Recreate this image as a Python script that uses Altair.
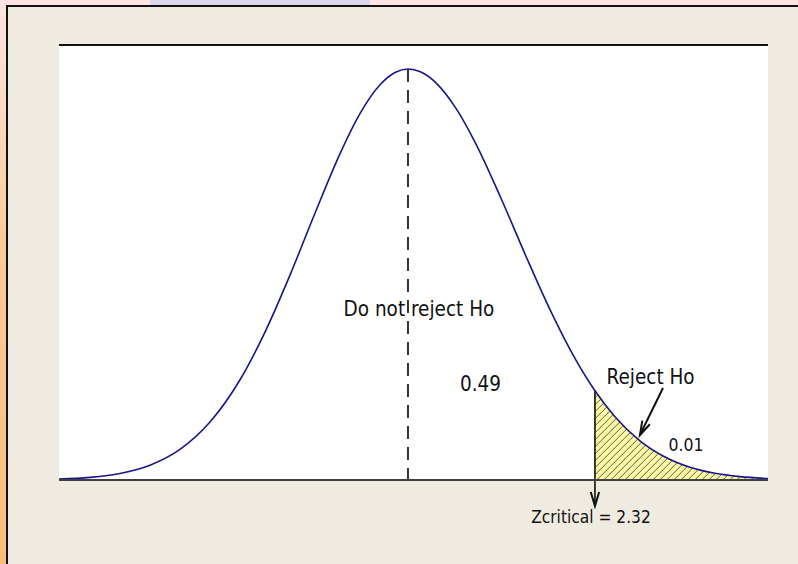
import altair as alt
import pandas as pd

# Bell curve traced as (z, density) pairs
curve_z = [-4.330, -3.945, -3.573, -3.201, -2.829, -2.457, -2.084, -1.774, -1.464, -1.154,
           -0.844, -0.596, -0.347, -0.161, 0.0, 0.161, 0.347, 0.596, 0.844, 1.154,
           1.464, 1.774, 2.084, 2.320, 2.568, 2.878, 3.189, 3.499, 3.809, 4.119, 4.467]
curve_density = [0.0009, 0.0026, 0.0064, 0.0144, 0.0298, 0.0565, 0.0978, 0.1443, 0.1999, 0.2603,
                 0.3182, 0.3574, 0.3856, 0.3976, 0.4010, 0.3980, 0.3875, 0.3626, 0.3277, 0.2749,
                 0.2183, 0.1642, 0.1169, 0.0870, 0.0617, 0.0382, 0.0224, 0.0124, 0.0065, 0.0033, 0.0014]

Z_MIN, Z_MAX = -4.33, 4.467
Y_MAX = 0.4244
Z_CRIT = 2.32
PEAK = 0.401
CRIT_HEIGHT = 0.0870

W, H = 709, 435
PX_PER_Z = W / (Z_MAX - Z_MIN)
PX_PER_D = H / Y_MAX

FONT = "DejaVu Sans Condensed, DejaVu Sans"

xs = alt.Scale(domain=[Z_MIN, Z_MAX], nice=False, zero=False)
ys = alt.Scale(domain=[0, Y_MAX], nice=False, zero=False)


def X(field):
    return alt.X(field, type="quantitative", scale=xs, axis=None)


def Y(field):
    return alt.Y(field, type="quantitative", scale=ys, axis=None)


curve = pd.DataFrame({"z": curve_z, "d": curve_density, "top": Y_MAX})

# Rejection region: yellow backing plus diagonal hatching, trimmed by a white mask above the curve
region = alt.Chart(pd.DataFrame({"z": [Z_CRIT], "z2": [Z_MAX], "d": [0.0], "d2": [Y_MAX]})).mark_rect(
    color="#FCF9A2"
).encode(x=X("z"), x2="z2", y=Y("d"), y2="d2")

hatch_rows = []
spacing_px = 7
crit_px = (Z_CRIT - Z_MIN) * PX_PER_Z
crit_h_px = CRIT_HEIGHT * PX_PER_D
x0 = crit_px - crit_h_px
while x0 < W + spacing_px:
    if x0 >= crit_px:
        sx, sy = x0, 0.0
    else:
        sx, sy = crit_px, crit_px - x0
    ex, ey = sx + 160, sy + 160
    hatch_rows.append({
        "z": Z_MIN + sx / PX_PER_Z, "d": sy / PX_PER_D,
        "z2": Z_MIN + ex / PX_PER_Z, "d2": ey / PX_PER_D,
    })
    x0 += spacing_px
hatch = alt.Chart(pd.DataFrame(hatch_rows)).mark_rule(
    color="#4a4a4a", strokeWidth=0.9, clip=True
).encode(x=X("z"), x2="z2", y=Y("d"), y2="d2")

mask = alt.Chart(curve).mark_area(color="white", interpolate="monotone").encode(
    x=X("z"), y=Y("d"), y2="top"
)

line = alt.Chart(curve).mark_line(color="#16168a", strokeWidth=1.6, interpolate="monotone").encode(
    x=X("z"), y=Y("d")
)

# Critical value marker running through the baseline into an arrow
crit_rule = alt.Chart(pd.DataFrame({"z": [Z_CRIT], "d": [CRIT_HEIGHT], "d2": [-0.0254]})).mark_rule(
    color="#1a1a1a", strokeWidth=1.7
).encode(x=X("z"), y=Y("d"), y2="d2")

ARROW_HEAD = "M-0.3,-1L0,0L0.3,-1"
crit_head = alt.Chart(pd.DataFrame({"z": [Z_CRIT], "d": [-0.0254]})).mark_point(
    shape=ARROW_HEAD, size=784, filled=False, color="#111", strokeWidth=2, opacity=1
).encode(x=X("z"), y=Y("d"))

# Mean line
mean_rule = alt.Chart(pd.DataFrame({"z": [0.0], "d": [PEAK], "d2": [0.0]})).mark_rule(
    color="#333333", strokeWidth=2, strokeDash=[13, 8]
).encode(x=X("z"), y=Y("d"), y2="d2")

baseline = alt.Chart(pd.DataFrame({"z": [Z_MIN], "z2": [Z_MAX], "d": [0.0]})).mark_rule(
    color="#404040", strokeWidth=2
).encode(x=X("z"), x2="z2", y=Y("d"))

top_rule = alt.Chart(pd.DataFrame({"z": [Z_MIN], "z2": [Z_MAX], "d": [Y_MAX]})).mark_rule(
    color="#111111", strokeWidth=2
).encode(x=X("z"), x2="z2", y=Y("d"))

# "Reject Ho" pointer
reject_arrow = alt.Chart(pd.DataFrame({"z": [3.164], "d": [0.0898], "z2": [2.878], "d2": [0.0439]})).mark_rule(
    color="#111", strokeWidth=2
).encode(x=X("z"), y=Y("d"), x2="z2", y2="d2")
reject_head = alt.Chart(pd.DataFrame({"z": [2.878], "d": [0.0439]})).mark_point(
    shape=ARROW_HEAD, size=784, filled=False, color="#111", strokeWidth=2, opacity=1, angle=26
).encode(x=X("z"), y=Y("d"))


def label(text, z, d, size):
    return alt.Chart(pd.DataFrame({"z": [z], "d": [d], "t": [text]})).mark_text(
        font=FONT, fontSize=size, color="#111", align="center", baseline="middle"
    ).encode(x=X("z"), y=Y("d"), text="t:N")


labels = [
    label("Do not reject Ho", 0.136, 0.1659, 20.5),
    label("0.49", 0.90, 0.0927, 20.5),
    label("Reject Ho", 3.01, 0.0995, 20.5),
    label("0.01", 3.45, 0.0332, 17.5),
    label("Zcritical = 2.32", 2.27, -0.0371, 17.2),
]

# Slide frame around the panel
one = pd.DataFrame({"k": [0]})
left_strip = alt.Chart(one).mark_rect(
    color=alt.Gradient(
        gradient="linear", x1=0, x2=0, y1=0, y2=1,
        stops=[alt.GradientStop(color="#FDE3E6", offset=0),
               alt.GradientStop(color="#FBCB95", offset=0.45),
               alt.GradientStop(color="#FBBE7C", offset=1)],
    )
).encode(x=alt.value(-59), x2=alt.value(-53), y=alt.value(-45), y2=alt.value(H + 84))
top_strip = alt.Chart(one).mark_rect(color="#FDE4E3").encode(
    x=alt.value(-59), x2=alt.value(W + 30), y=alt.value(-45), y2=alt.value(-40)
)
top_tab = alt.Chart(one).mark_rect(color="#D9D8EC").encode(
    x=alt.value(150 - 59), x2=alt.value(370 - 59), y=alt.value(-45), y2=alt.value(-40)
)
frame_left = alt.Chart(one).mark_rule(color="#111", strokeWidth=2).encode(
    x=alt.value(-52), y=alt.value(-40), y2=alt.value(H + 84)
)
frame_top = alt.Chart(one).mark_rule(color="#111", strokeWidth=2).encode(
    x=alt.value(-53), x2=alt.value(W + 30), y=alt.value(-39)
)

chart = alt.layer(
    left_strip, top_strip, top_tab, frame_left, frame_top,
    region, hatch, mask, line, crit_rule, crit_head, mean_rule, baseline, top_rule,
    reject_arrow, reject_head, *labels
).properties(
    width=W, height=H,
    padding={"left": 59, "top": 45, "right": 30, "bottom": 84},
    autosize="none",
    background="#EFEBE0",
).configure_view(fill="white", stroke=None)

chart.save("out.html", embed_options={"renderer": "svg", "actions": False})
